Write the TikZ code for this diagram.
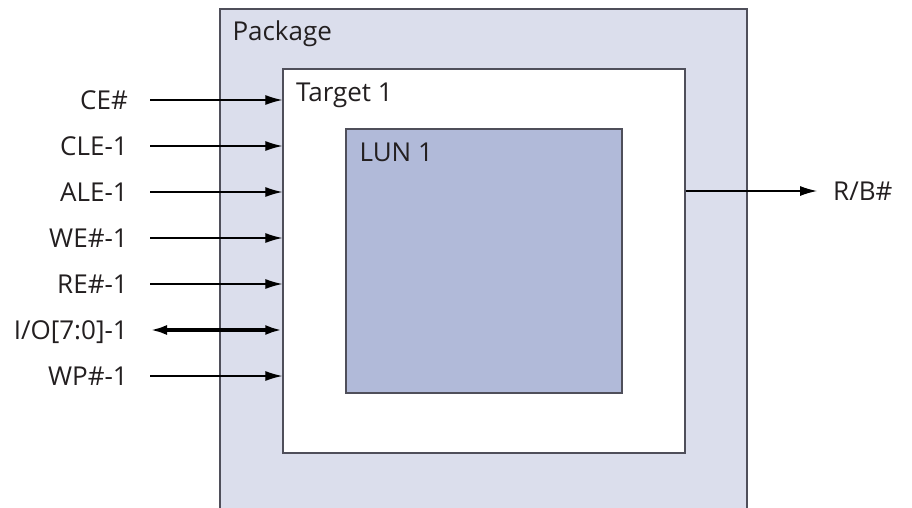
\documentclass[tikz,border=0pt]{standalone}
\usepackage{fontspec}
\setmainfont{Open Sans}
\usetikzlibrary{arrows.meta}

\definecolor{pkgfill}{HTML}{DBDEEC}
\definecolor{lunfill}{HTML}{B1BAD9}
\definecolor{edge}{HTML}{4F4F5A}
\definecolor{ink}{HTML}{231F20}

\tikzset{
    box/.style = {draw = edge, line width = 1.4pt, inner sep = 0pt},
    title/.style = {anchor = north west, inner sep = 0pt, text height = 18.6pt, text depth = 0pt},
    sig/.style = {anchor = east, inner ysep = 0pt, inner xsep = 22pt, text height = 18.6pt, text depth = 0pt},
    wire/.style = {line width = 1.2pt, -{Latex[length=17pt, width=10pt]}},
    bus/.style = {line width = 3.5pt, {Latex[length=17pt, width=10pt]}-{Latex[length=17pt, width=10pt]}}
}

\begin{document}
\begin{tikzpicture}[x = 1pt, y = -1pt, font = \fontsize{26}{31}\selectfont, text = ink]
    \clip (0,0) rectangle (912,508);
    % boxes
    \node[box, fill = pkgfill, minimum width = 527pt, minimum height = 521pt] (package) at (483.5,269.5) {};
    \node[box, fill = white, minimum width = 402pt, minimum height = 384pt] (target) at (484,261) {};
    \node[box, fill = lunfill, minimum width = 276pt, minimum height = 264pt] (lun) at (484,261) {};
    \node[title] (pkgname) at ([xshift = 13pt, yshift = -13.5pt]package.north west) {Package};
    \node[title] (tgtname) at ([xshift = 13.5pt, yshift = -14pt]target.north west) {Target 1};
    \node[title] (lunname) at ([xshift = 14pt, yshift = -14pt]lun.north west) {LUN 1};
    % signals
    \node[sig] (ce) at (150,100) {CE\#};
    \node[sig] (cle) at (150,146) {CLE-1};
    \node[sig] (ale) at (150,192) {ALE-1};
    \node[sig] (we) at (150,238) {WE\#-1};
    \node[sig] (re) at (150,284) {RE\#-1};
    \node[sig] (io) at (150,330) {I/O[7:0]-1};
    \node[sig] (wp) at (150,376) {WP\#-1};
    \foreach \s in {ce, cle, ale, we, re, wp}
        \draw[wire] (\s.east) -- (\s.east -| target.west);
    \draw[bus] (io.east) -- (io.east -| target.west);
    % ready/busy
    \node[sig, anchor = west, inner xsep = 16pt] (rb) at (817,191) {R/B\#};
    \draw[wire] (rb.west -| target.east) -- (rb.west);
\end{tikzpicture}
\end{document}
